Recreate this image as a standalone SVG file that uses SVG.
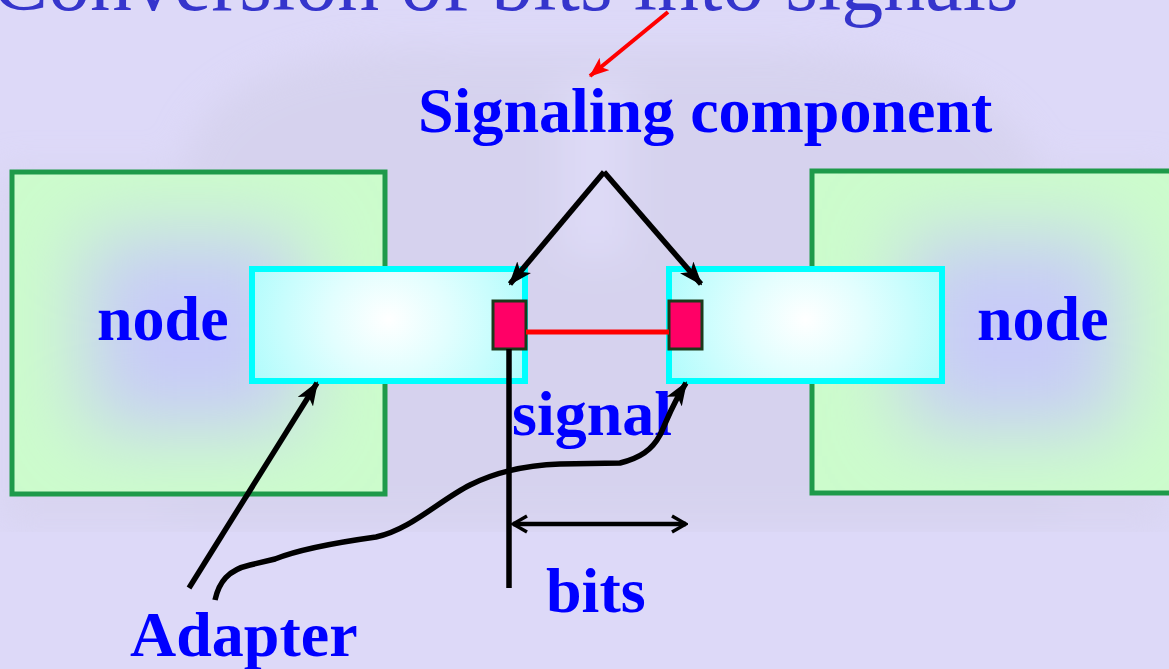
<svg xmlns="http://www.w3.org/2000/svg" width="1169" height="669" viewBox="0 0 1169 669">
  <style>
    .lbl { font-family: "Liberation Serif", "Times New Roman", serif; font-weight: bold; font-size: 64px; fill: #0000ff; }
    .title { font-family: "Liberation Serif", "Times New Roman", serif; font-size: 84px; fill: #3535cc; }
    .node { stroke: #1e9a4a; stroke-width: 5; fill: none; }
    .nodefill { fill: #ccfccc; }
    .adapter { stroke: #00ffff; stroke-width: 6; }
    .sig { fill: #ff0066; stroke: #1a3a1a; stroke-width: 3; }
    .conn { fill: none; stroke: #000; stroke-width: 5.5; }
  </style>
  <defs>
    <radialGradient id="adGrad" cx="0.5" cy="0.45" r="0.55" gradientTransform="translate(0.5 0.45) scale(1 2.2) translate(-0.5 -0.45)">
      <stop offset="0" stop-color="#ffffff"/>
      <stop offset="0.4" stop-color="#e2fefe"/>
      <stop offset="1" stop-color="#b0fcfc"/>
    </radialGradient>
    <filter id="blur" x="-20%" y="-20%" width="140%" height="140%">
      <feGaussianBlur stdDeviation="18"/>
    </filter>
    <filter id="soft" x="-50%" y="-50%" width="200%" height="200%">
      <feGaussianBlur stdDeviation="40"/>
    </filter>
    <clipPath id="clipL"><rect x="12" y="172" width="373" height="322"/></clipPath>
    <clipPath id="clipR"><rect x="812" y="171" width="373" height="322"/></clipPath>
    <marker id="ah" viewBox="0 0 24 18" refX="22" refY="9" markerWidth="24" markerHeight="18" markerUnits="userSpaceOnUse" orient="auto">
      <path d="M0,0 L24,9 L0,18 L6,9 Z" fill="#000"/>
    </marker>
    <marker id="ao" viewBox="0 0 18 20" refX="16" refY="10" markerWidth="18" markerHeight="20" markerUnits="userSpaceOnUse" orient="auto-start-reverse">
      <path d="M2,2 L16,10 L2,18" fill="none" stroke="#000" stroke-width="3.5"/>
    </marker>
    <marker id="ar" viewBox="0 0 20 16" refX="19" refY="8" markerWidth="20" markerHeight="16" markerUnits="userSpaceOnUse" orient="auto">
      <path d="M0,0 L20,8 L0,16 L5,8 Z" fill="#ff0000"/>
    </marker>
  </defs>

  <!-- background -->
  <rect x="0" y="0" width="1169" height="669" fill="#ddd9f8"/>
  <g filter="url(#blur)" opacity="0.6">
    <rect x="0" y="170" width="1169" height="360" fill="#d6d2ec"/>
    <path d="M170,530 L185,160 C200,80 320,40 460,50 L760,50 C900,50 1010,90 1040,170 L1060,530 Z" fill="#d2cfe8"/>
    <rect x="560" y="80" width="70" height="180" fill="#dedbf6"/>
  </g>
  <rect x="0" y="532" width="1169" height="137" fill="#ddd9f8"/>

  <!-- title (cropped at top, as in the reference) -->
  <text class="title" x="-8" y="10">Conversion of bits into signals</text>

  <!-- nodes -->
  <g id="node-left">
    <rect class="nodefill" x="12" y="172" width="373" height="322"/>
    <g clip-path="url(#clipL)">
      <rect x="85" y="235" width="215" height="195" fill="#c8cbf8" filter="url(#soft)"/>
    </g>
    <rect class="node" x="12" y="172" width="373" height="322"/>
    <text class="lbl" x="97" y="340">node</text>
  </g>
  <g id="node-right">
    <rect class="nodefill" x="812" y="171" width="373" height="322"/>
    <g clip-path="url(#clipR)">
      <rect x="905" y="235" width="215" height="195" fill="#c8cbf8" filter="url(#soft)"/>
    </g>
    <rect class="node" x="812" y="171" width="373" height="322"/>
    <text class="lbl" x="977" y="340">node</text>
  </g>
  <g id="adapter-left">
    <rect class="adapter" x="252" y="269" width="273" height="112" fill="url(#adGrad)"/>
  </g>
  <g id="adapter-right">
    <rect class="adapter" x="669" y="269" width="273" height="112" fill="url(#adGrad)"/>
  </g>
  <g id="signal-left">
    <rect class="sig" x="493" y="301" width="33" height="48"/>
  </g>
  <g id="signal-right">
    <rect class="sig" x="669" y="301" width="33" height="48"/>
  </g>

  <g id="labels">
    <text class="lbl" x="418" y="132">Signaling component</text>
    <text class="lbl" x="512" y="435">signal</text>
    <text class="lbl" x="546" y="612">bits</text>
    <text class="lbl" x="130" y="656">Adapter</text>
  </g>

  <!-- connectors -->
  <g id="connectors">
    <line x1="526" y1="332" x2="669" y2="332" stroke="#ff0000" stroke-width="5"/>
    <line x1="509" y1="349" x2="509" y2="588" stroke="#000" stroke-width="5.5"/>
    <line x1="513" y1="524" x2="686" y2="524" stroke="#000" stroke-width="4.5" marker-start="url(#ao)" marker-end="url(#ao)"/>
    <line class="conn" x1="604" y1="172" x2="510" y2="284" marker-end="url(#ah)"/>
    <line class="conn" x1="604" y1="172" x2="701" y2="284" marker-end="url(#ah)"/>
    <line class="conn" x1="189" y1="588" x2="317" y2="383" marker-end="url(#ah)"/>
    <path class="conn" d="M215,600 C219,582 228,570 250,565 L275,559 C300,549 340,542 376,537 C410,530 440,500 470,485 C500,470 530,465 560,464 L620,463 C640,458 652,450 660,435 C668,418 672,405 686,383" marker-end="url(#ah)"/>
    <line x1="668" y1="12" x2="590" y2="76" stroke="#ff0000" stroke-width="4" marker-end="url(#ar)"/>
  </g>
</svg>
